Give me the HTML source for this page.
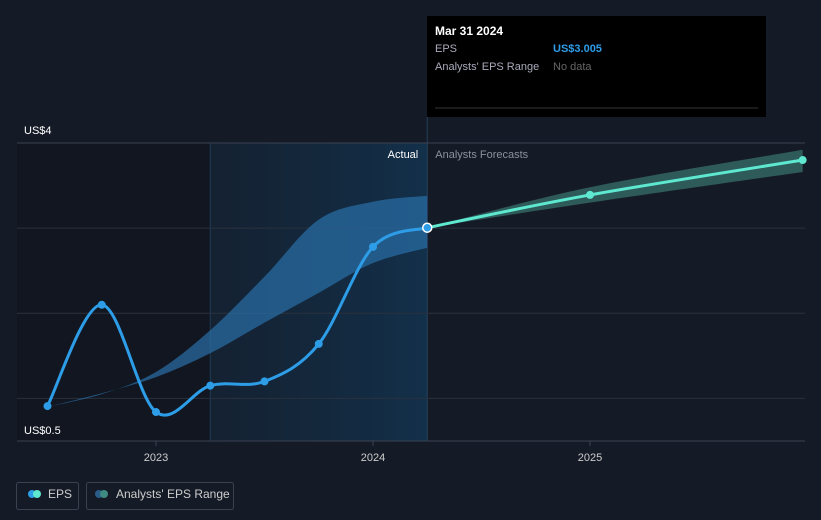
<!DOCTYPE html>
<html><head><meta charset="utf-8"><style>
body{margin:0;background:#151b26;font-family:"Liberation Sans",sans-serif;}
svg{display:block}
</style></head><body>
<svg width="821" height="520" viewBox="0 0 821 520">
<defs>
<linearGradient id="pg" x1="0" x2="1" y1="0" y2="0"><stop offset="0" stop-color="#13263a" stop-opacity="0.6"/><stop offset="1" stop-color="#13304a"/></linearGradient>
</defs>
<rect x="0" y="0" width="821" height="520" fill="#151b26"/>
<g id="bg"></g>
<g id="grid"></g>
<g id="bands"></g>
<g id="lines"></g>
<g id="pts"></g>
<g id="labels"></g>
<g>
<rect x="427" y="16" width="339" height="101" fill="#000"/>
<text x="435" y="35" fill="#fff" font-size="12" font-weight="bold">Mar 31 2024</text>
<text x="435" y="52" fill="#aab" font-size="11">EPS</text>
<text x="553" y="52" fill="#2e9de8" font-size="11" font-weight="bold">US$3.005</text>
<text x="435" y="70" fill="#aab" font-size="11">Analysts' EPS Range</text>
<text x="553" y="70" fill="#666" font-size="11">No data</text>
<line x1="435" y1="108" x2="758" y2="108" stroke="#333"/>
</g>
<g>
<rect x="16.5" y="482.5" width="62" height="27" rx="2" fill="none" stroke="#3a4250"/>
<circle cx="32" cy="494" r="4" fill="#2e9de8"/><circle cx="37" cy="494" r="4" fill="#5ee8d0"/>
<text x="48" y="498" fill="#ccc" font-size="12">EPS</text>
<rect x="86.5" y="482.5" width="147" height="27" rx="2" fill="none" stroke="#3a4250"/>
<circle cx="99" cy="494" r="4" fill="#2a5c8a"/><circle cx="104" cy="494" r="4" fill="#3f8a82"/>
<text x="116" y="498" fill="#ccc" font-size="12">Analysts' EPS Range</text>
</g>
</svg>
<script>
const epsDates=[2022.5,2022.75,2023,2023.25,2023.5,2023.75,2024,2024.25];
const epsValues=[0.91,2.10,0.84,1.15,1.20,1.64,2.78,3.005];
const pastRangeDates=[2022.5,2022.75,2023,2023.25,2023.5,2023.75,2024,2024.25];
const pastRangeHigh=[0.9,1.05,1.31,1.80,2.43,3.10,3.31,3.38];
const pastRangeLow=[0.9,1.06,1.25,1.53,1.89,2.24,2.59,2.77];
const fcDates=[2024.25,2025,2025.98];
const fcValues=[3.005,3.39,3.8];
const fcHigh=[3.005,3.48,3.92];
const fcLow=[3.005,3.30,3.66];
const yTicks=[4,3,2,1];
const xTicks=[2023,2024,2025];
const X=d=>156+(d-2023)*217;
const Y=v=>143+(4-v)*85.14;
const NS='http://www.w3.org/2000/svg';
function mk(p,t,a){const e=document.createElementNS(NS,t);for(const k in a)e.setAttribute(k,a[k]);document.getElementById(p).appendChild(e);return e;}
function smooth(pts){let d='M'+pts[0][0]+','+pts[0][1];for(let i=0;i<pts.length-1;i++){const p0=pts[i-1]||pts[i],p1=pts[i],p2=pts[i+1],p3=pts[i+2]||p2;const c1x=p1[0]+(p2[0]-p0[0])/6,c1y=p1[1]+(p2[1]-p0[1])/6,c2x=p2[0]-(p3[0]-p1[0])/6,c2y=p2[1]-(p3[1]-p1[1])/6;d+=' C'+c1x+','+c1y+' '+c2x+','+c2y+' '+p2[0]+','+p2[1];}return d;}
const xa=X(2024.25), y0=Y(0.5);
let r=mk('bg','rect',{x:17,y:143,width:X(2023.25)-17,height:y0-143,fill:'#111620'});


r=mk('bg','rect',{x:X(2023.25),y:143,width:xa-X(2023.25),height:y0-143,fill:'url(#pg)'});


mk('bg','line',{x1:X(2023.25),y1:143,x2:X(2023.25),y2:y0,stroke:'#1e3a55'});
mk('bg','line',{x1:xa,y1:117,x2:xa,y2:y0,stroke:'#27405a'});
yTicks.forEach(v=>{const l=mk('grid','line',{x1:17,x2:805,y1:Y(v),y2:Y(v),stroke:v==4?'#3a4250':'#2a313d'});});
let ax=mk('grid','line',{x1:17,x2:805,y1:y0,y2:y0,stroke:'#3a4250'});


xTicks.forEach(v=>{mk('grid','line',{x1:X(v),x2:X(v),y1:y0,y2:y0+5,stroke:'#3a4250'});const t=mk('labels','text',{x:X(v),y:y0+20,fill:'#ccc','font-size':11,'text-anchor':'middle'});t.textContent=v;});
let t=mk('labels','text',{x:24,y:134,fill:'#fff','font-size':11});t.textContent='US$4';


t=mk('labels','text',{x:24,y:434,fill:'#fff','font-size':11});t.textContent='US$0.5';


t=mk('labels','text',{x:xa-9,y:158,fill:'#fff','font-size':11,'text-anchor':'end'});t.textContent='Actual';


t=mk('labels','text',{x:xa+8,y:158,fill:'#8a919c','font-size':11});t.textContent='Analysts Forecasts';


function band(dates,hi,lo,fill,name){const up=dates.map((d,i)=>[X(d),Y(hi[i])]);const dn=dates.map((d,i)=>[X(d),Y(lo[i])]).reverse();let d=smooth(up);d+=' L'+dn[0][0]+','+dn[0][1]+smooth(dn).slice(smooth(dn).indexOf(' '))+'Z';const p=mk('bands','path',{d:d,fill:fill});}
band(pastRangeDates,pastRangeHigh,pastRangeLow,'#2a6fa8',"past-eps-range");
document.querySelector('#bands path').setAttribute('fill-opacity','0.7');
band(fcDates,fcHigh,fcLow,'#2e5a5a',"forecast-eps-range");
let l=mk('lines','path',{d:smooth(epsDates.map((d,i)=>[X(d),Y(epsValues[i])])),fill:'none',stroke:'#2e9de8','stroke-width':3});


l=mk('lines','path',{d:smooth(fcDates.map((d,i)=>[X(d),Y(fcValues[i])])),fill:'none',stroke:'#5ee8d0','stroke-width':3});


epsDates.forEach((d,i)=>{const last=i==epsDates.length-1;const c=mk('pts','circle',{cx:X(d),cy:Y(epsValues[i]),r:last?4.5:4,fill:'#2e9de8',stroke:last?'#fff':'none','stroke-width':1.5});});
fcDates.slice(1).forEach((d,i)=>{const c=mk('pts','circle',{cx:X(d),cy:Y(fcValues[i+1]),r:4,fill:'#5ee8d0'});});
</script>
</body></html>
